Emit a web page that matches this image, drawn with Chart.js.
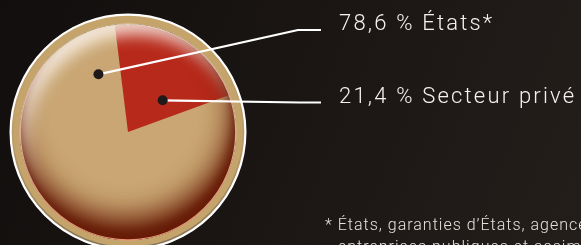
<!DOCTYPE html>
<html><head><meta charset="utf-8">
<script src="https://cdn.jsdelivr.net/npm/chart.js@4"></script>
<style>html,body{margin:0;padding:0;background:#15110f;overflow:hidden}canvas{display:block}</style>
</head><body>
<canvas id="c" width="581" height="245"></canvas>
<script>
// ---- data ----
const categories = ['États*', 'Secteur privé'];
const values = [78.6, 21.4];
const valueLabels = ['78,6 %', '21,4 %'];
const footnoteLines = ['* États, garanties d’États, agences, supranationaux', 'entreprises publiques et assimilés'];

// ---- style ----
const sliceColors = ['#c9a673', '#b7291a'];
const FONT = 'Roboto, "Liberation Sans", sans-serif';
const markerStyle = [
  { arcFrac: 0.929, radFrac: 0.60, bend: [298, 30], end: [321, 30], textX: 339, baseY: 30 },
  { arcFrac: 0.709, radFrac: 0.435, bend: [300, 102.5], end: [321, 102.5], textX: 339, baseY: 103 }
];

const decor = {
  id: 'decor',
  beforeDraw(chart) {
    const { ctx, width, height } = chart;
    const g = ctx.createLinearGradient(0, 0, width, height);
    g.addColorStop(0, '#110e0d');
    g.addColorStop(1, '#241e1b');
    ctx.save(); ctx.fillStyle = g; ctx.fillRect(0, 0, width, height); ctx.restore();
  },
  beforeDatasetsDraw(chart) {
    const { ctx } = chart;
    const a = chart.getDatasetMeta(0).data[0];
    const x = a.x, y = a.y, r = a.outerRadius;
    ctx.save();
    ctx.beginPath(); ctx.arc(x, y, r + 9, 0, 2 * Math.PI);
    ctx.fillStyle = '#c5a46c'; ctx.fill();
    const lg = ctx.createLinearGradient(0, y - r, 0, y + r);
    lg.addColorStop(0, 'rgba(130,118,92,0)');
    lg.addColorStop(0.55, 'rgba(130,118,92,0.2)');
    lg.addColorStop(1, 'rgba(120,110,88,0.9)');
    ctx.beginPath(); ctx.arc(x, y, r + 7.4, 0, 2 * Math.PI);
    ctx.lineWidth = 1.4; ctx.strokeStyle = lg; ctx.stroke();
    ctx.beginPath(); ctx.arc(x, y, r + 9.4, 0, 2 * Math.PI);
    ctx.lineWidth = 2.2; ctx.strokeStyle = '#ffffff'; ctx.stroke();
    ctx.restore();
  },
  afterDatasetsDraw(chart) {
    const { ctx } = chart;
    const meta = chart.getDatasetMeta(0);
    const a = meta.data[0];
    const x = a.x, y = a.y, r = a.outerRadius;
    ctx.save();
    ctx.beginPath(); ctx.arc(x, y, r, 0, 2 * Math.PI); ctx.clip();
    const ring = () => {
      ctx.beginPath();
      ctx.rect(x - 4 * r, y - 4 * r, 8 * r, 8 * r);
      ctx.arc(x, y, r, 0, 2 * Math.PI, true);
    };
    ctx.fillStyle = '#000';
    ring();
    ctx.shadowColor = 'rgba(255,248,240,0.9)'; ctx.shadowBlur = 16;
    ctx.shadowOffsetX = 7; ctx.shadowOffsetY = 10;
    ctx.fill();
    ring();
    ctx.shadowColor = 'rgba(104,28,6,1)'; ctx.shadowBlur = 28;
    ctx.shadowOffsetX = -4; ctx.shadowOffsetY = -22;
    ctx.fill();
    ring();
    ctx.shadowColor = 'rgba(100,26,6,0.85)'; ctx.shadowBlur = 10;
    ctx.shadowOffsetX = -3; ctx.shadowOffsetY = -9;
    ctx.fill();
    ctx.restore();
    ctx.save();
    const eg = ctx.createLinearGradient(0, y - r, 0, y + r);
    eg.addColorStop(0, 'rgba(240,225,200,0.8)');
    eg.addColorStop(1, 'rgba(235,150,120,0.95)');
    ctx.beginPath(); ctx.arc(x, y, r - 0.2, 0, 2 * Math.PI);
    ctx.lineWidth = 1.3; ctx.strokeStyle = eg; ctx.stroke();
    ctx.restore();

    ctx.save();
    meta.data.forEach((el, i) => {
      const s = markerStyle[i];
      const ang = el.startAngle + (el.endAngle - el.startAngle) * s.arcFrac;
      const px = el.x + Math.cos(ang) * el.outerRadius * s.radFrac;
      const py = el.y + Math.sin(ang) * el.outerRadius * s.radFrac;
      ctx.beginPath();
      ctx.moveTo(px, py); ctx.lineTo(s.bend[0], s.bend[1]); ctx.lineTo(s.end[0], s.end[1]);
      ctx.lineWidth = 2.2; ctx.strokeStyle = '#ffffff'; ctx.lineJoin = 'round'; ctx.stroke();
      ctx.beginPath(); ctx.arc(px, py, 5, 0, 2 * Math.PI);
      ctx.fillStyle = '#1e1a1a'; ctx.fill();
      ctx.font = '300 22px ' + FONT;
      ctx.letterSpacing = '2.2px';
      ctx.fillStyle = '#f4f2f0'; ctx.textBaseline = 'alphabetic'; ctx.textAlign = 'left';
      ctx.fillText(valueLabels[i] + ' ' + chart.data.labels[i], s.textX, s.baseY);
    });
    ctx.font = '300 16px ' + FONT;
    ctx.letterSpacing = '1px';
    ctx.fillStyle = '#e6e2de';
    ctx.fillText(footnoteLines[0], 325, 230);
    ctx.fillText(footnoteLines[1], 338, 252);
    ctx.restore();
  }
};

function draw() {
  new Chart(document.getElementById('c'), {
    type: 'pie',
    data: {
      labels: categories,
      datasets: [{ data: values, backgroundColor: sliceColors, borderWidth: 0, hoverOffset: 0 }]
    },
    options: {
      responsive: false,
      animation: false,
      devicePixelRatio: 1,
      events: [],
      rotation: 70,
      layout: { padding: { left: 20, right: 345, top: 24, bottom: 5 } },
      plugins: { legend: { display: false }, tooltip: { enabled: false } }
    },
    plugins: [decor]
  });
}
if (document.fonts && document.fonts.load) {
  Promise.all([document.fonts.load('300 22px Roboto'), document.fonts.load('300 16px Roboto')]).then(draw, draw);
} else draw();
</script>
</body></html>
